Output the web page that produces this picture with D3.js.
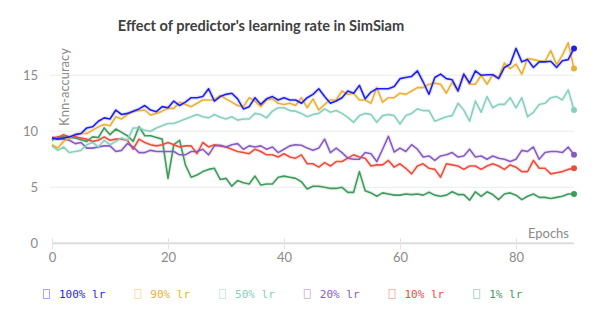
<!DOCTYPE html>
<html>
<head>
<meta charset="utf-8">
<script src="https://cdn.jsdelivr.net/npm/d3@7"></script>
<style>
  html, body { margin: 0; padding: 0; background: #fff; }
  svg { display: block; }
</style>
</head>
<body>
<svg id="chart" width="609" height="317"></svg>
<script>
const epochs = d3.range(0, 91);

const lr100 = [9.4,9.3,9.4,9.5,9.7,9.8,10.3,10.4,10.9,11.2,11.1,11.9,11.5,11.6,11.8,12.0,12.3,11.9,11.75,12.2,
  12.1,12.7,12.3,12.6,13.0,13.0,13.1,13.8,12.7,13.1,13.3,13.4,12.9,12.0,12.2,13.0,12.4,12.9,13.1,12.8,
  13.0,12.8,12.8,12.5,13.0,13.3,13.8,13.1,12.5,12.7,13.0,13.6,13.4,14.1,12.9,13.5,13.8,13.8,13.8,14.0,
  14.7,14.8,14.9,15.4,14.4,13.3,14.8,15.1,14.7,14.6,13.6,15.1,14.3,15.4,15.0,15.05,15.05,14.7,15.7,16.0,
  17.4,16.2,16.4,15.7,16.2,16.2,16.25,15.7,16.3,16.4,17.4];

const lr90 = [8.8,8.5,9.1,9.4,9.7,9.8,9.8,10.1,10.4,10.6,10.5,11.3,11.1,11.5,11.75,11.85,11.9,11.45,11.6,11.8,
  12.05,12.05,12.6,12.4,12.2,12.5,12.8,12.8,12.8,13.2,12.9,12.6,12.3,12.2,13.0,12.7,12.2,12.8,12.9,12.5,
  12.4,12.5,12.3,13.0,12.1,12.9,11.9,12.4,12.8,12.8,13.6,13.3,13.4,12.8,12.8,12.5,13.9,12.6,13.0,13.0,
  13.4,13.3,13.6,13.9,13.9,14.2,14.3,14.2,13.4,14.4,13.6,15.1,14.2,14.2,15.0,14.2,15.05,14.8,16.1,15.6,
  16.0,15.1,16.5,16.4,16.3,16.25,17.2,15.95,16.8,17.9,15.6];

const lr50 = [8.7,8.3,8.6,8.1,8.2,8.3,8.8,9.0,8.6,9.2,8.8,9.1,9.4,9.2,10.3,10.3,10.1,10.0,10.3,10.5,
  10.7,10.7,10.9,11.1,11.3,11.5,11.3,11.2,11.5,11.25,11.1,11.3,11.0,11.1,11.1,11.6,11.5,11.2,11.8,12.1,
  12.1,11.85,11.8,11.6,11.3,11.5,11.6,12.0,11.7,11.85,11.6,11.25,10.8,11.4,11.6,11.5,10.8,11.4,11.5,11.4,
  10.65,11.4,11.6,12.0,11.85,11.85,10.9,11.1,11.3,11.4,12.5,11.9,10.9,12.7,11.7,13.1,12.1,12.4,12.4,13.0,
  12.1,13.0,11.3,11.7,12.4,12.5,13.0,13.1,12.8,13.7,11.9];

const lr20 = [9.4,9.35,9.3,9.2,8.9,9.0,8.5,8.5,8.6,8.7,8.7,8.2,8.3,8.9,8.6,8.1,8.1,8.3,8.2,8.2,
  8.2,8.2,7.9,7.9,8.2,8.2,8.4,7.9,8.7,8.75,8.6,8.8,8.9,8.4,8.7,8.6,8.7,8.4,8.6,8.1,
  8.4,8.7,8.8,8.75,8.5,8.3,8.5,9.3,8.1,8.5,8.1,7.6,7.5,7.5,8.1,8.0,7.3,8.4,9.55,8.15,
  8.5,8.2,8.8,8.4,7.7,7.8,7.4,7.8,7.9,8.1,7.7,7.8,8.4,7.7,7.8,7.5,7.8,7.6,7.5,7.3,
  7.5,8.3,8.2,8.6,7.5,8.1,8.2,8.2,8.1,8.6,7.9];

const lr10 = [9.45,9.45,9.7,9.5,9.5,9.4,9.3,9.1,9.2,9.5,9.2,9.3,9.3,9.2,8.4,9.3,9.0,8.8,8.7,8.8,
  9.0,8.8,8.6,8.7,8.7,8.0,9.0,8.6,8.8,8.7,8.6,8.4,8.2,8.1,8.0,8.4,8.2,7.9,7.9,7.7,
  8.0,7.7,7.6,7.9,7.1,7.1,6.8,7.2,6.9,7.3,7.3,7.6,7.9,7.7,7.6,6.9,7.0,7.0,7.4,6.8,
  7.1,6.7,6.2,6.9,7.1,6.7,6.6,5.9,7.1,7.0,6.9,6.6,6.9,6.9,6.6,6.9,7.1,6.9,6.6,7.0,
  6.8,6.4,6.4,7.4,6.7,6.7,6.2,6.3,6.4,6.6,6.7];

const lr1 = [9.2,9.5,9.5,9.45,9.4,9.25,9.1,9.5,9.45,10.3,9.7,10.2,9.9,9.6,9.1,10.4,9.6,9.6,9.45,9.3,
  5.8,8.8,9.2,7.0,5.9,6.1,6.4,6.6,6.7,5.7,5.8,5.1,5.6,5.4,5.3,6.0,5.2,5.3,5.3,5.9,
  6.0,5.9,5.8,5.5,4.85,5.1,5.1,5.0,4.9,4.9,5.0,4.55,4.55,6.4,4.7,4.5,4.2,4.5,4.4,4.3,
  4.3,4.4,4.35,4.4,4.3,4.55,4.3,4.2,4.3,4.6,4.35,4.35,3.85,4.6,4.2,4.6,4.35,3.9,4.4,4.5,
  4.3,3.9,4.2,4.4,4.1,4.1,4.0,4.1,4.2,4.4,4.4];

const seriesNames = ["100% lr", "90% lr", "50% lr", "20% lr", "10% lr", "1% lr"];
const seriesValues = [lr100, lr90, lr50, lr20, lr10, lr1];
const seriesColors = ["#1f1ff0", "#e9b035", "#87d0bc", "#875bc2", "#ee4c3b", "#3f9a5c"];

const yTicks = [0, 5, 10, 15];
const xTicks = [0, 20, 40, 60, 80];

const svg = d3.select("#chart");
const x = d3.scaleLinear().domain([0, 90]).range([52, 574]);
const y = d3.scaleLinear().domain([0, 5]).range([243.3, 187.3]);

// title
svg.append("text")
  .attr("x", 261).attr("y", 31)
  .attr("text-anchor", "middle")
  .attr("font-family", "Lato, 'Noto Sans', sans-serif")
  .attr("font-weight", 700)
  .attr("font-size", 14.6)
  .attr("fill", "#404040")
  .text("Effect of predictor's learning rate in SimSiam");

// gridlines
svg.append("g").selectAll("line")
  .data(yTicks.filter(d => d > 0)).join("line")
  .attr("x1", 50).attr("x2", 574)
  .attr("y1", d => y(d)).attr("y2", d => y(d))
  .attr("stroke", "#ececec").attr("stroke-width", 1);

// y axis labels
const yAxis = d3.axisLeft(y).tickValues(yTicks).tickSize(0).tickPadding(0).tickFormat(d3.format("d"));
const gy = svg.append("g").attr("transform", "translate(38,0)").call(yAxis);
gy.select(".domain").remove();
gy.selectAll("text").attr("font-family", "Lato, 'Noto Sans', sans-serif")
  .attr("font-size", 13).attr("fill", "#8a8a8a");

// x axis
const xAxis = d3.axisBottom(x).tickValues(xTicks).tickSizeInner(11).tickSizeOuter(0).tickPadding(3).tickFormat(d3.format("d"));
const gx = svg.append("g").attr("transform", `translate(0,${y(0) - 5})`).call(xAxis);
gx.select(".domain").attr("stroke", "#dcdcdc").attr("stroke-width", 2).attr("d", `M${x(0)},5H${x(90)}`);
gx.selectAll(".tick line").attr("stroke", "#e2e2e2");
gx.selectAll("text").attr("font-family", "Lato, 'Noto Sans', sans-serif")
  .attr("font-size", 13).attr("fill", "#8a8a8a").attr("dy", "0.71em");

// axis titles
svg.append("text")
  .attr("transform", "translate(69,48) rotate(-90)")
  .attr("text-anchor", "end")
  .attr("font-family", "Lato, 'Noto Sans', sans-serif")
  .attr("font-size", 13).attr("fill", "#8a8a8a")
  .text("Knn-accuracy");
svg.append("text")
  .attr("x", 569).attr("y", 238)
  .attr("text-anchor", "end")
  .attr("font-family", "Lato, 'Noto Sans', sans-serif")
  .attr("font-size", 13).attr("fill", "#8a8a8a")
  .text("Epochs");

// lines (draw from last to first so blue on top)
const line = d3.line().x((d, i) => x(epochs[i])).y(d => y(d));
const order = [5, 4, 3, 2, 1, 0];
order.forEach(k => {
  svg.append("path")
    .attr("d", line(seriesValues[k]))
    .attr("fill", "none")
    .attr("stroke", seriesColors[k])
    .attr("stroke-opacity", 0.12)
    .attr("stroke-width", 4)
    .attr("stroke-linejoin", "round");
});
order.forEach(k => {
  svg.append("path")
    .attr("d", line(seriesValues[k]))
    .attr("fill", "none")
    .attr("stroke", seriesColors[k])
    .attr("stroke-width", 1.6)
    .attr("stroke-linejoin", "round");
  const vals = seriesValues[k];
  svg.append("circle")
    .attr("cx", x(epochs[vals.length - 1]))
    .attr("cy", y(vals[vals.length - 1]))
    .attr("r", 3)
    .attr("fill", seriesColors[k]);
});

// legend
const charW = 6.62;
let lx = 43;
const legend = svg.append("g");
seriesNames.forEach((name, k) => {
  legend.append("rect")
    .attr("x", lx + 0.5).attr("y", 289.5)
    .attr("width", 6).attr("height", 9)
    .attr("fill", "none")
    .attr("stroke", seriesColors[k])
    .attr("stroke-opacity", 0.4)
    .attr("stroke-width", 1);
  legend.append("text")
    .attr("x", lx + 16).attr("y", 298)
    .attr("font-family", "'DejaVu Sans Mono', monospace")
    .attr("font-size", 11)
    .attr("fill", seriesColors[k])
    .text(name);
  lx += 16 + name.length * charW + 29;
});
</script>
</body>
</html>
